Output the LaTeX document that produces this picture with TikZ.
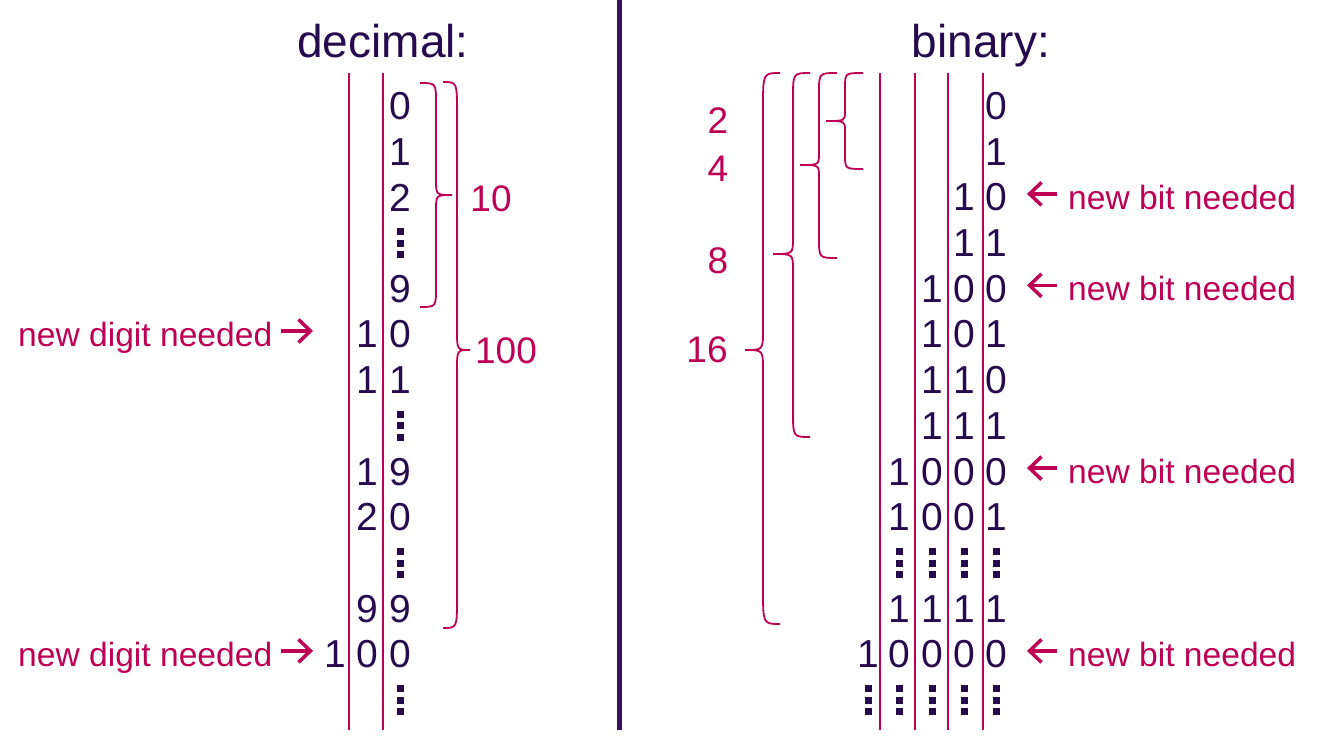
\documentclass[tikz,border=0pt]{standalone}
\usepackage{fontspec}
\setmainfont{Liberation Sans}
\usetikzlibrary{arrows.meta}
\definecolor{mag}{RGB}{190,0,85}
\definecolor{ink}{RGB}{38,10,78}
\definecolor{bar}{RGB}{58,14,98}
% brace: xend, xspine, xtip, ytop, ytip, ybot, R, r
\newcommand\mybrace[8]{%
  \draw[brc] (#1,#4) .. controls (#2,#4) .. (#2,#4+#7) -- (#2,#5-#8)
    .. controls (#2,#5) .. (#3,#5) .. controls (#2,#5) .. (#2,#5+#8)
    -- (#2,#6-#7) .. controls (#2,#6) .. (#1,#6);}
% vertical dots: name, x, row
\newcommand\mydots[3]{%
  \node[sq] (#1a) at (#2,{106+45.7*#3-11.5}) {};
  \node[sq] (#1b) at (#2,{106+45.7*#3}) {};
  \node[sq] (#1c) at (#2,{106+45.7*#3+11.5}) {};}
\begin{document}
\begin{tikzpicture}[x=1pt,y=-1pt,
  dig/.style={inner sep=0pt, text=ink, font=\fontsize{39}{39}\selectfont},
  lab/.style={inner sep=0pt, text=mag, font=\fontsize{33.6}{34}\selectfont},
  num/.style={inner sep=0pt, text=mag, font=\fontsize{37}{37}\selectfont},
  ttl/.style={inner sep=0pt, text=ink, font=\fontsize{46}{46}\selectfont},
  rul/.style={draw=mag, line width=2pt},
  brc/.style={draw=mag, line width=1.8pt},
  sq/.style={rectangle, fill=ink, inner sep=0pt, minimum size=7pt},
  arr/.style={draw=mag, line width=3.5pt, -{Straight Barb[length=12pt,width=23pt,line width=3.5pt]}},
]
\useasboundingbox (0,0) rectangle (1330,738);

% divider
\draw[bar, line width=5pt] (619,0) -- (619,730);

% titles
\node[ttl, anchor=base] (tdec) at (383,58) {decimal:};
\node[ttl, anchor=base] (tbin) at (981,58) {binary:};

% decimal column rules
\draw[rul] (349,73) -- (349,730);
\draw[rul] (383,73) -- (383,730);

% binary column rules
\foreach \x in {880,915,948,983} \draw[rul] (\x,73) -- (\x,730);

% decimal digits
\foreach \r/\c/\t [count=\i] in {0/400/0, 1/400/1, 2/400/2, 4/400/9,
  5/367/1, 5/400/0, 6/367/1, 6/400/1, 8/367/1, 8/400/9, 9/367/2, 9/400/0,
  11/367/9, 11/400/9, 12/335/1, 12/367/0, 12/400/0}
  \node[dig] (d\i) at (\c,{106+45.7*\r}) {\t};

% binary digits
\foreach \r/\c/\t [count=\i] in {0/996/0, 1/996/1, 2/964/1, 2/996/0,
  3/964/1, 3/996/1, 4/932/1, 4/964/0, 4/996/0, 5/932/1, 5/964/0, 5/996/1,
  6/932/1, 6/964/1, 6/996/0, 7/932/1, 7/964/1, 7/996/1,
  8/899/1, 8/932/0, 8/964/0, 8/996/0, 9/899/1, 9/932/0, 9/964/0, 9/996/1,
  11/899/1, 11/932/1, 11/964/1, 11/996/1,
  12/868/1, 12/899/0, 12/932/0, 12/964/0, 12/996/0}
  \node[dig] (b\i) at (\c,{106+45.7*\r}) {\t};

% vertical dots
\mydots{da}{400}{3}
\mydots{db}{400}{7}
\mydots{dc}{400}{10}
\mydots{dd}{400}{13}
\mydots{ba}{899}{10}
\mydots{bb}{932}{10}
\mydots{bc}{964}{10}
\mydots{bd}{996}{10}
\mydots{be}{868}{13}
\mydots{bf}{899}{13}
\mydots{bg}{932}{13}
\mydots{bh}{964}{13}
\mydots{bi}{996}{13}

% labels with arrows
\foreach \r [count=\i] in {5,12} {
  \node[lab, anchor=base west] (nd\i) at (18,{106+45.7*\r+12}) {new digit needed};
  \coordinate (nds\i) at (281,{106+45.7*\r-3.5});
  \coordinate (nde\i) at (313,{106+45.7*\r-3.5});
  \draw[arr] (nds\i) -- (nde\i);
}
\foreach \r [count=\i] in {2,4,8,12} {
  \node[lab, anchor=base west] (nb\i) at (1068,{106+45.7*\r+12}) {new bit needed};
  \coordinate (nbs\i) at (1057,{106+45.7*\r-3.5});
  \coordinate (nbe\i) at (1027,{106+45.7*\r-3.5});
  \draw[arr] (nbs\i) -- (nbe\i);
}

% decimal braces
\mybrace{420}{436}{452}{83}{195}{307}{20}{15}
\mybrace{443}{457}{470}{82}{350}{628}{30}{20}
\node[num] (n10) at (491,199) {10};
\node[num] (n100) at (506,351) {100};

% binary braces
\mybrace{863}{845}{826}{73}{121}{169}{15}{10}
\mybrace{837}{819}{800}{73}{165}{258}{20}{12}
\mybrace{810}{793}{773}{73}{254}{437}{26}{16}
\mybrace{780}{763}{745}{73}{350}{624}{35}{20}
\node[num] (n2) at (718,121) {2};
\node[num] (n4) at (718,169) {4};
\node[num] (n8) at (718,261) {8};
\node[num] (n16) at (707,350) {16};
\end{tikzpicture}
\end{document}
